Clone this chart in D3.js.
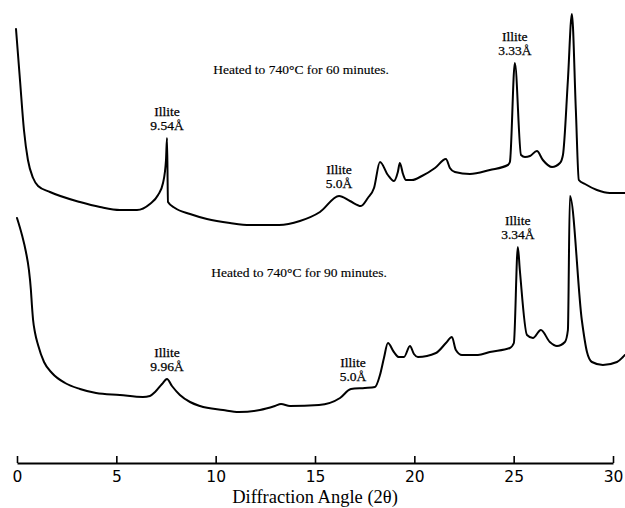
<!DOCTYPE html>
<html>
<head>
<meta charset="utf-8">
<script src="https://cdn.jsdelivr.net/npm/d3@7"></script>
<style>
  html, body { margin: 0; padding: 0; background: #fff; }
  svg { display: block; }
</style>
</head>
<body>
<svg id="chart" width="625" height="508"></svg>
<script>
// X-ray diffraction traces of the heated sample, stacked one above the other.
// Angles are in degrees 2θ; intensities are in relative units and already
// include the vertical stacking offset of each trace.

const angles60 = [-0.05, 0.15, 0.35, 0.55, 0.81, 1.06, 1.66, 3.17, 4.18, 5.18, 6.04, 6.69, 7.10, 7.35, 7.50,
  7.55, 7.60, 7.95, 8.71, 9.56, 10.72, 11.73, 13.19, 14.24, 15.25, 16.21, 16.76, 17.31, 17.66, 17.97,
  18.27, 18.67, 18.97, 19.17, 19.27, 19.43, 19.58, 19.88, 20.38, 21.04, 21.59, 21.79, 22.04, 22.80,
  23.80, 24.71, 24.81, 25.06, 25.37, 25.57, 25.82, 26.17, 26.47, 26.93, 27.33, 27.48, 27.73, 27.93,
  28.13, 28.28, 28.59, 29.19, 29.84, 30.60];
const intensity60 = [86.8, 76.6, 66.6, 60.6, 57.0, 55.4, 54.2, 52.2, 51.2, 50.6, 50.6, 51.8, 53.6, 56.0, 60.6,
  65.0, 52.2, 51.0, 49.8, 48.8, 48.0, 47.6, 47.6, 48.4, 50.2, 53.4, 52.4, 51.4, 53.0, 55.0,
  60.2, 57.6, 56.4, 58.2, 60.0, 57.8, 56.6, 56.6, 57.4, 59.0, 60.8, 59.0, 58.2, 57.8,
  58.6, 59.6, 60.2, 80.0, 61.6, 61.2, 61.4, 62.4, 60.6, 59.2, 60.0, 61.6, 76.6, 89.8,
  70.6, 56.6, 55.8, 54.6, 54.0, 54.0];

const angles90 = [0.00, 0.25, 0.45, 0.60, 0.70, 0.75, 0.81, 0.91, 1.06, 1.36, 1.76, 2.42, 3.17, 3.98, 5.18,
  6.34, 6.69, 6.95, 7.30, 7.55, 7.80, 8.20, 8.71, 9.21, 10.37, 11.17, 12.23, 12.98, 13.29, 13.74,
  15.20, 16.26, 16.81, 17.51, 18.02, 18.27, 18.47, 18.67, 18.97, 19.22, 19.48, 19.78, 19.98, 20.18,
  21.09, 21.59, 21.89, 22.09, 22.40, 23.20, 23.80, 24.81, 25.01, 25.21, 25.31, 25.67, 25.97, 26.37,
  26.82, 27.18, 27.58, 27.73, 27.83, 28.43, 28.69, 28.94, 29.49, 30.20, 30.50, 30.60];
const intensity90 = [49.0, 45.6, 42.2, 38.6, 34.6, 31.6, 28.6, 26.0, 23.6, 20.2, 18.0, 16.0, 14.8, 14.0, 13.6,
  13.2, 13.4, 14.2, 15.8, 16.8, 15.4, 13.6, 12.2, 11.4, 10.6, 10.2, 10.6, 11.4, 11.8, 11.4,
  11.6, 13.0, 14.8, 15.0, 15.2, 17.6, 21.0, 24.0, 22.2, 21.2, 21.2, 23.4, 21.8, 21.2,
  22.0, 24.0, 25.2, 22.6, 21.6, 21.6, 22.2, 23.0, 24.0, 43.2, 38.6, 25.6, 25.0, 26.6,
  24.2, 23.4, 24.2, 26.6, 53.4, 28.6, 22.2, 20.2, 19.6, 20.2, 21.2, 21.6];

// Peak annotations: mineral name, d-spacing, peak angle and peak intensity
const peakNames = ["Illite", "Illite", "Illite", "Illite", "Illite", "Illite"];
const peakSpacings = ["9.54Å", "5.0Å", "3.33Å", "9.96Å", "5.0Å", "3.34Å"];
const peakAngles = [7.55, 16.21, 25.06, 7.55, 16.91, 25.21];
const peakIntensities = [65.0, 53.4, 80.0, 16.8, 14.8, 43.2];

// Trace captions
const captions = ["Heated to 740°C for 60 minutes.", "Heated to 740°C for 90 minutes."];
const captionAngles = [14.3, 14.2];
const captionIntensities = [77.8, 37.2];

const tickValues = [0, 5, 10, 15, 20, 25, 30];
const axisTitle = "Diffraction Angle (2θ)";

const svg = d3.select("#chart");
const serif = "'Liberation Serif', 'Times New Roman', serif";
const sans = "'DejaVu Sans', Arial, sans-serif";

const x = d3.scaleLinear().domain([0, 30]).range([17, 613]);
const y = d3.scaleLinear().domain([0, 90]).range([463, 13]);

const line = d3.line()
  .x(d => x(d[0]))
  .y(d => y(d[1]))
  .curve(d3.curveMonotoneX);

const traces = [
  d3.zip(angles60, intensity60),
  d3.zip(angles90, intensity90)
];

svg.append("g")
  .selectAll("path")
  .data(traces)
  .join("path")
  .attr("d", line)
  .attr("fill", "none")
  .attr("stroke", "#000")
  .attr("stroke-width", 2)
  .attr("stroke-linejoin", "round")
  .attr("stroke-linecap", "round");

// Peak labels, two lines stacked above each peak tip
const labels = svg.append("g")
  .attr("font-family", serif)
  .attr("font-size", 13.5)
  .attr("text-anchor", "middle")
  .attr("fill", "#000")
  .attr("stroke", "#000")
  .attr("stroke-width", 0.25);

peakNames.forEach((name, i) => {
  const px = x(peakAngles[i]);
  const py = y(peakIntensities[i]);
  labels.append("text").attr("x", px).attr("y", py - 22).text(name);
  labels.append("text").attr("x", px).attr("y", py - 8).text(peakSpacings[i]);
});

svg.append("g")
  .attr("font-family", serif)
  .attr("font-size", 13.5)
  .attr("text-anchor", "middle")
  .attr("fill", "#000")
  .attr("stroke", "#000")
  .attr("stroke-width", 0.15)
  .selectAll("text")
  .data(captions)
  .join("text")
  .attr("x", (d, i) => x(captionAngles[i]))
  .attr("y", (d, i) => y(captionIntensities[i]))
  .text(d => d);

// Horizontal axis with upward ticks
const axis = d3.axisBottom(x)
  .tickValues(tickValues)
  .tickSizeInner(-7)
  .tickSizeOuter(0)
  .tickPadding(8)
  .tickFormat(d3.format("d"));

const gAxis = svg.append("g")
  .attr("transform", `translate(0,${y(0)})`)
  .call(axis);

gAxis.select(".domain").attr("stroke", "#000").attr("stroke-width", 2);
gAxis.selectAll(".tick line").attr("stroke", "#000").attr("stroke-width", 1.6);
gAxis.selectAll(".tick text")
  .attr("font-family", sans)
  .attr("font-size", 15.5)
  .attr("fill", "#000");

svg.append("text")
  .attr("x", (x(0) + x(30)) / 2)
  .attr("y", 503)
  .attr("text-anchor", "middle")
  .attr("font-family", serif)
  .attr("font-size", 18.5)
  .attr("fill", "#000")
  .text(axisTitle);
</script>
</body>
</html>
